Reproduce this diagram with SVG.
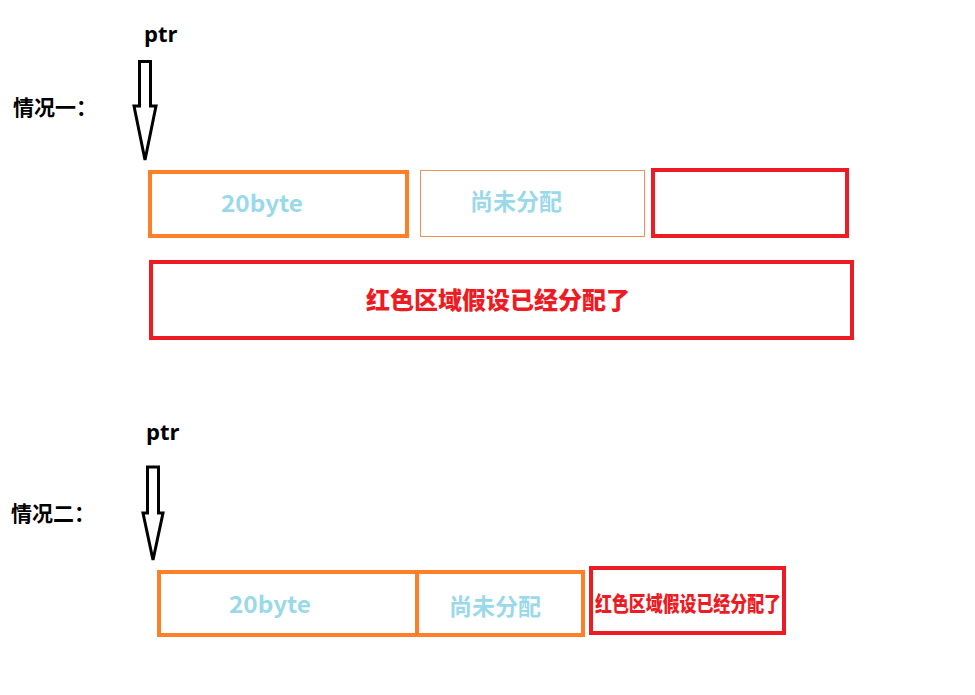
<svg xmlns="http://www.w3.org/2000/svg" width="975" height="695" viewBox="0 0 975 695">
<style>
.lbl{font-family:"Noto Sans CJK SC","Liberation Sans",sans-serif;font-weight:bold;fill:#000;font-size:21px}
.ptr{font-family:"Open Sans","Liberation Sans",sans-serif;font-weight:bold;fill:#000;font-size:22px}
.blue{font-family:"Noto Sans CJK SC","Liberation Sans",sans-serif;font-weight:bold;fill:#99d9ea;font-size:23px;text-anchor:middle}
.redt{font-family:"Noto Sans CJK SC","Liberation Sans",sans-serif;font-weight:900;fill:#ed1c24;text-anchor:middle}
.ob{fill:#fff;stroke:#fd7f28;stroke-width:4}
.rb{fill:#fff;stroke:#ed1c24;stroke-width:4}
.arr{fill:#fff;stroke:#000;stroke-width:3;stroke-linejoin:miter}
</style>
<rect width="975" height="695" fill="#fff"/>
<g id="case1-labels">
<text class="ptr" x="144" y="42">ptr</text>
<text class="lbl" x="13" y="115">情况一：</text>
</g>
<g id="connectors">
<path class="arr" d="M139.5,61.5 H150.5 V106 H156 L145,160 L134,106 H139.5 Z"/>
<path class="arr" d="M147.5,467 H158.5 V513 H163 L153,560 L143,513 H147.5 Z"/>
</g>
<g id="c1-20byte">
<rect class="ob" x="150" y="172" width="257" height="64"/>
<text class="blue" x="262" y="212" textLength="82" lengthAdjust="spacingAndGlyphs">20byte</text>
</g>
<g id="c1-unalloc">
<rect x="420.5" y="170.5" width="224" height="66" fill="#fff" stroke="#e8955a" stroke-width="1"/>
<text class="blue" x="516" y="210" font-size="22">尚未分配</text>
</g>
<g id="c1-red-small">
<rect class="rb" x="653" y="170" width="194" height="66"/>
</g>
<g id="c1-red-big">
<rect class="rb" x="151" y="262" width="701" height="76"/>
<text class="redt" x="498" y="309" font-size="24">红色区域假设已经分配了</text>
</g>
<g id="case2-labels">
<text class="ptr" x="146" y="440">ptr</text>
<text class="lbl" x="11" y="521">情况二：</text>
</g>
<g id="c2-20byte">
<rect class="ob" x="159" y="572" width="258" height="63"/>
<text class="blue" x="270" y="613" textLength="82" lengthAdjust="spacingAndGlyphs">20byte</text>
</g>
<g id="c2-unalloc">
<rect class="ob" x="417" y="572" width="166" height="63"/>
<text class="blue" x="495" y="615" font-size="22">尚未分配</text>
</g>
<g id="c2-red">
<rect class="rb" x="591" y="568" width="193" height="65"/>
<text class="redt" x="688" y="611" font-size="21" textLength="186" lengthAdjust="spacingAndGlyphs">红色区域假设已经分配了</text>
</g>
</svg>
